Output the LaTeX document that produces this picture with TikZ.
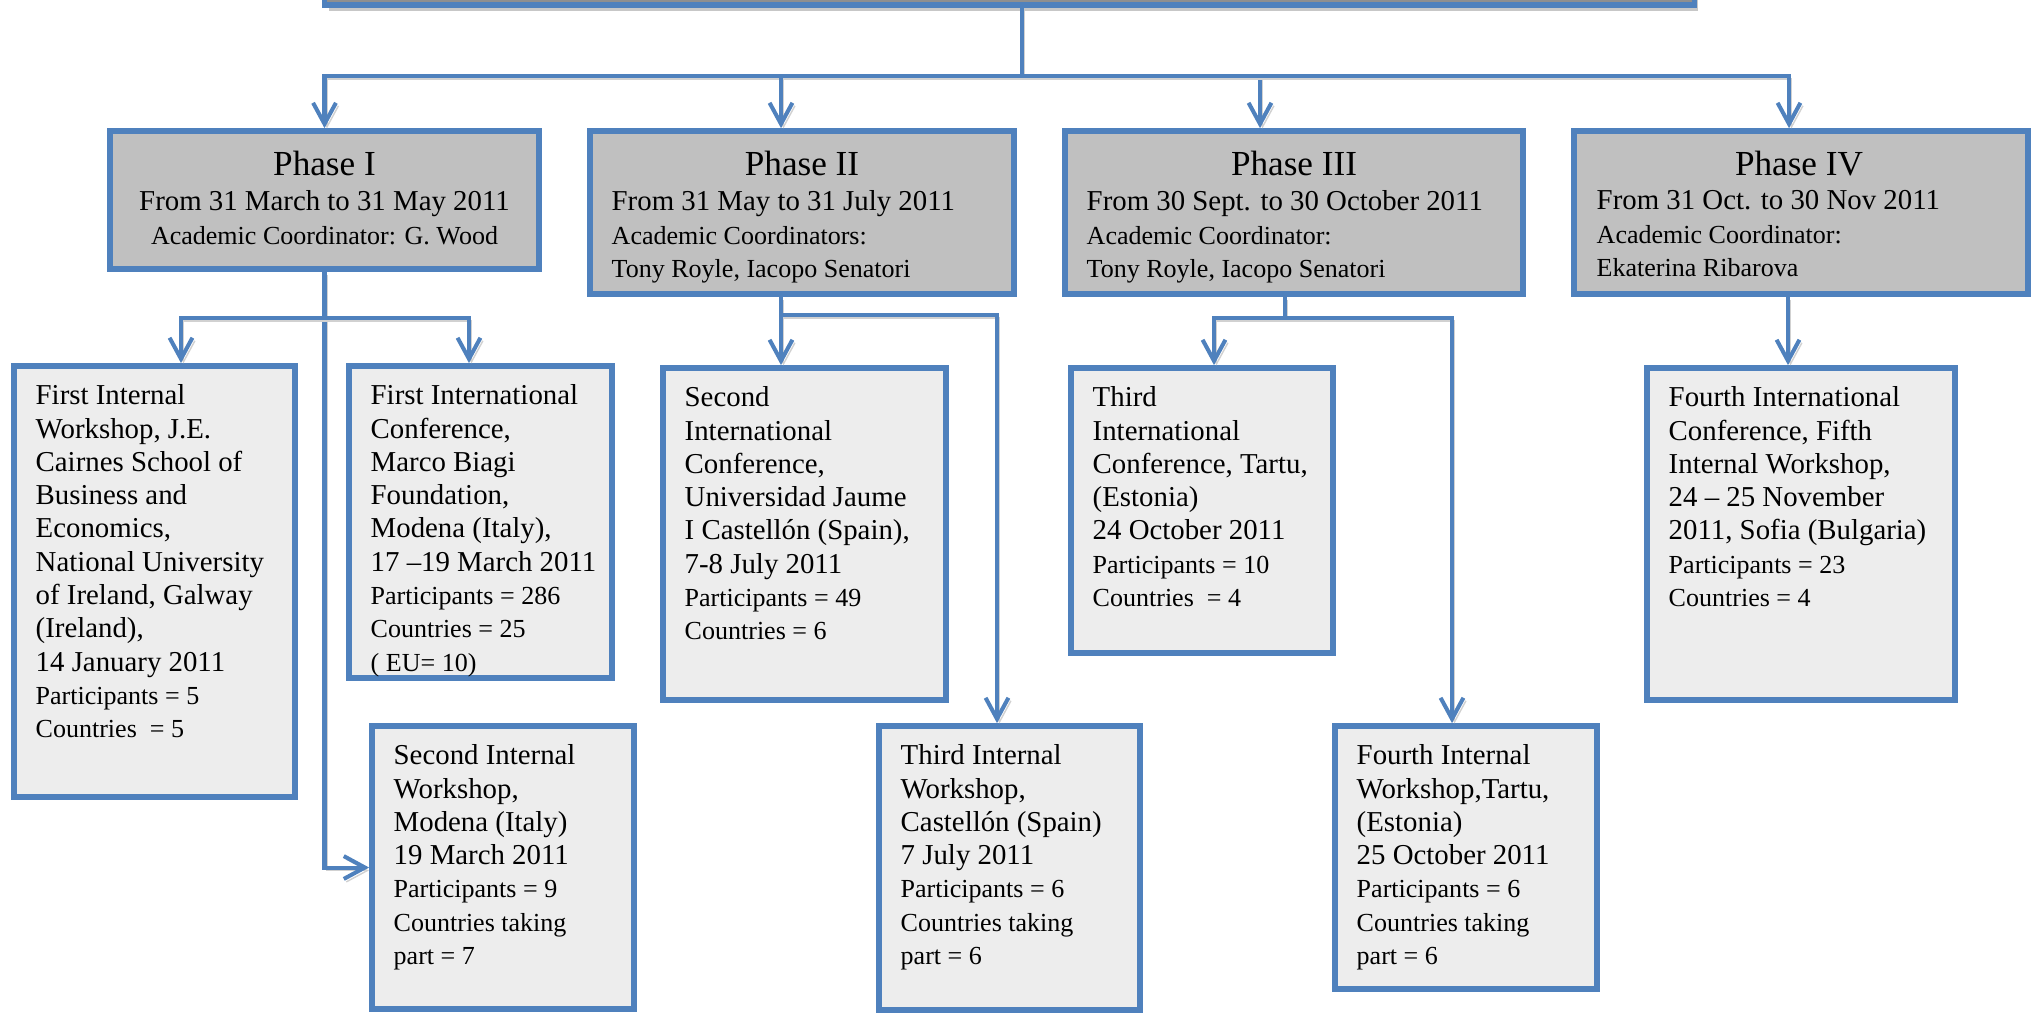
\documentclass[tikz,border=0pt]{standalone}
\usepackage{fontspec}
\setmainfont{Liberation Serif}
\usepackage{xcolor}
\usepackage{tikz}
\usetikzlibrary{arrows.meta, positioning, calc, shadows}
\definecolor{linkblue}{HTML}{4F81BD}
\definecolor{phasegray}{HTML}{C0C0C0}
\definecolor{eventgray}{HTML}{EDEDED}
\definecolor{topgray}{HTML}{8F8F8F}
\newcommand{\evbig}{\fontsize{8.2}{9.47}\selectfont}
\newcommand{\evsmall}{\fontsize{7.4}{8.5}\selectfont}
\newcommand{\phtitle}{\fontsize{10}{12}\selectfont}

\begin{document}
\begin{tikzpicture}[x=0.01cm, y=-0.01cm,
  box/.style={draw=linkblue, line width=1.6pt, inner sep=0pt},
  topbox/.style={box, fill=topgray, drop shadow={shadow xshift=0.04cm, shadow yshift=-0.06cm, fill=black!22, opacity=1}},
  phasebox/.style={box, fill=phasegray},
  eventbox/.style={box, fill=eventgray},
  phasetitle/.style={font=\phtitle, anchor=base, inner sep=0pt},
  phasetext/.style={font=\evbig, inner sep=0pt},
  eventtext/.style={font=\evbig, align=left, anchor=north west, inner sep=0pt},
  link/.style={draw=linkblue, line width=1.15pt,
    preaction={draw=black!18, transform canvas={shift={(0.025cm,-0.03cm)}}}},
  arrow/.style={link, -{Straight Barb[length=6pt, width=6.5pt]}},
]
  \useasboundingbox (0,0) rectangle (2031,1014);
  \clip (0,0) rectangle (2031,1014);

  % Top box (cut off)
  \node[topbox, minimum width=13.69cm, minimum height=0.62cm] (top) at (1009.5,-26) {};

  % Phases
  \node[phasebox, minimum width=4.29cm, minimum height=1.38cm] (p1) at (324.5,200) {};
  \node[phasebox, minimum width=4.24cm, minimum height=1.63cm] (p2) at (802,212.5) {};
  \node[phasebox, minimum width=4.58cm, minimum height=1.63cm] (p3) at (1294,212.5) {};
  \node[phasebox, minimum width=4.54cm, minimum height=1.63cm] (p4) at (1801,212.5) {};

  \node[phasetitle] (p1h) at (324.5,175) {Phase I};
  \node[phasetext, align=center, anchor=north] (p1t) at (324.5,190)
    {From 31 March to 31 May 2011\\ \evsmall Academic Coordinator: G. Wood};
  \node[phasetitle] (p2h) at (802,175) {Phase II};
  \node[phasetext, align=left, anchor=north west] (p2t) at (611,190)
    {From 31 May to 31 July 2011\\ \evsmall Academic Coordinators:\\ \evsmall Tony Royle, Iacopo Senatori};
  \node[phasetitle] (p3h) at (1294,175) {Phase III};
  \node[phasetext, align=left, anchor=north west] (p3t) at (1086,190)
    {From 30 Sept. to 30 October 2011\\ \evsmall Academic Coordinator:\\ \evsmall Tony Royle, Iacopo Senatori};
  \node[phasetitle] (p4h) at (1799,175) {Phase IV};
  \node[phasetext, align=left, anchor=north west] (p4t) at (1596,190)
    {From 31 Oct. to 30 Nov 2011\\ \evsmall Academic Coordinator:\\ \evsmall Ekaterina Ribarova};

  % Events
  \node[eventbox, minimum width=2.81cm, minimum height=4.31cm] (w1) at (154.5,581.5) {};
  \node[eventbox, minimum width=2.63cm, minimum height=3.12cm] (c1) at (480.5,522) {};
  \node[eventbox, minimum width=2.62cm, minimum height=2.83cm] (w2) at (503,867.5) {};
  \node[eventbox, minimum width=2.83cm, minimum height=3.32cm] (c2) at (804.5,534) {};
  \node[eventbox, minimum width=2.61cm, minimum height=2.84cm] (w3) at (1009.5,868) {};
  \node[eventbox, minimum width=2.62cm, minimum height=2.85cm] (c3) at (1202,510.5) {};
  \node[eventbox, minimum width=2.62cm, minimum height=2.63cm] (w4) at (1466,857.5) {};
  \node[eventbox, minimum width=3.08cm, minimum height=3.32cm] (c4) at (1801,534) {};

  \node[eventtext] (w1t) at (35,384) {First Internal\\ Workshop, J.E.\\ Cairnes School of\\ Business and\\ Economics,\\ National University\\ of Ireland, Galway\\ (Ireland),\\ 14 January 2011\\ \evsmall Participants = 5\\ \evsmall Countries~ = 5};
  \node[eventtext] (c1t) at (370,384) {First International\\ Conference,\\ Marco Biagi\\ Foundation,\\ Modena (Italy),\\ 17 –19 March 2011\\ \evsmall Participants = 286\\ \evsmall Countries = 25\\ \evsmall ( EU= 10)};
  \node[eventtext] (w2t) at (393,744) {Second Internal\\ Workshop,\\ Modena (Italy)\\ 19 March 2011\\ \evsmall Participants = 9\\ \evsmall Countries taking\\ \evsmall part = 7};
  \node[eventtext] (c2t) at (684,386) {Second\\ International\\ Conference,\\ Universidad Jaume\\ I Castellón (Spain),\\ 7-8 July 2011\\ \evsmall Participants = 49\\ \evsmall Countries = 6};
  \node[eventtext] (w3t) at (900,744) {Third Internal\\ Workshop,\\ Castellón (Spain)\\ 7 July 2011\\ \evsmall Participants = 6\\ \evsmall Countries taking\\ \evsmall part = 6};
  \node[eventtext] (c3t) at (1092,386) {Third\\ International\\ Conference, Tartu,\\ (Estonia)\\ 24 October 2011\\ \evsmall Participants = 10\\ \evsmall Countries~ = 4};
  \node[eventtext] (w4t) at (1356,744) {Fourth Internal\\ Workshop,Tartu,\\ (Estonia)\\ 25 October 2011\\ \evsmall Participants = 6\\ \evsmall Countries taking\\ \evsmall part = 6};
  \node[eventtext] (c4t) at (1668,386) {Fourth International\\ Conference, Fifth\\ Internal Workshop,\\ 24 – 25 November\\ 2011, Sofia (Bulgaria)\\ \evsmall Participants = 23\\ \evsmall Countries = 4};

  % Top level links
  \coordinate (bus) at (1022,76);
  \draw[link] ($(top.south)+(12.5,0)$) -- (bus);
  \draw[arrow] (bus) -| (p1.north);
  \draw[arrow] (bus) -| ($(p2.north)+(-21,0)$);
  \draw[arrow] (bus) -| ($(p3.north)+(-34,0)$);
  \draw[arrow] (bus) -| ($(p4.north)+(-12,0)$);

  % Phase I links
  \path (p1.south) ++(0,46) coordinate (b1);
  \draw[arrow] (p1.south) |- (w2.west);
  \draw[arrow] (b1) -| ($(w1.north)+(26.5,0)$);
  \draw[arrow] (b1) -| ($(c1.north)+(-11.5,0)$);

  % Phase II links
  \path ($(p2.south)+(-21,0)$) coordinate (p2o) ++(0,18) coordinate (b2);
  \draw[arrow] (p2o) -- (b2) -| ($(c2.north)+(-23.5,0)$);
  \draw[arrow] (b2) -| ($(w3.north)+(-12.5,0)$);

  % Phase III links
  \path ($(p3.south)+(-9,0)$) coordinate (p3o) ++(0,21) coordinate (b3);
  \draw[arrow] (p3o) -- (b3) -| ($(c3.north)+(12,0)$);
  \draw[arrow] (b3) -| ($(w4.north)+(-14,0)$);

  % Phase IV link
  \draw[arrow] ($(p4.south)+(-13,0)$) -- ($(c4.north)+(-13,0)$);
\end{tikzpicture}
\end{document}
